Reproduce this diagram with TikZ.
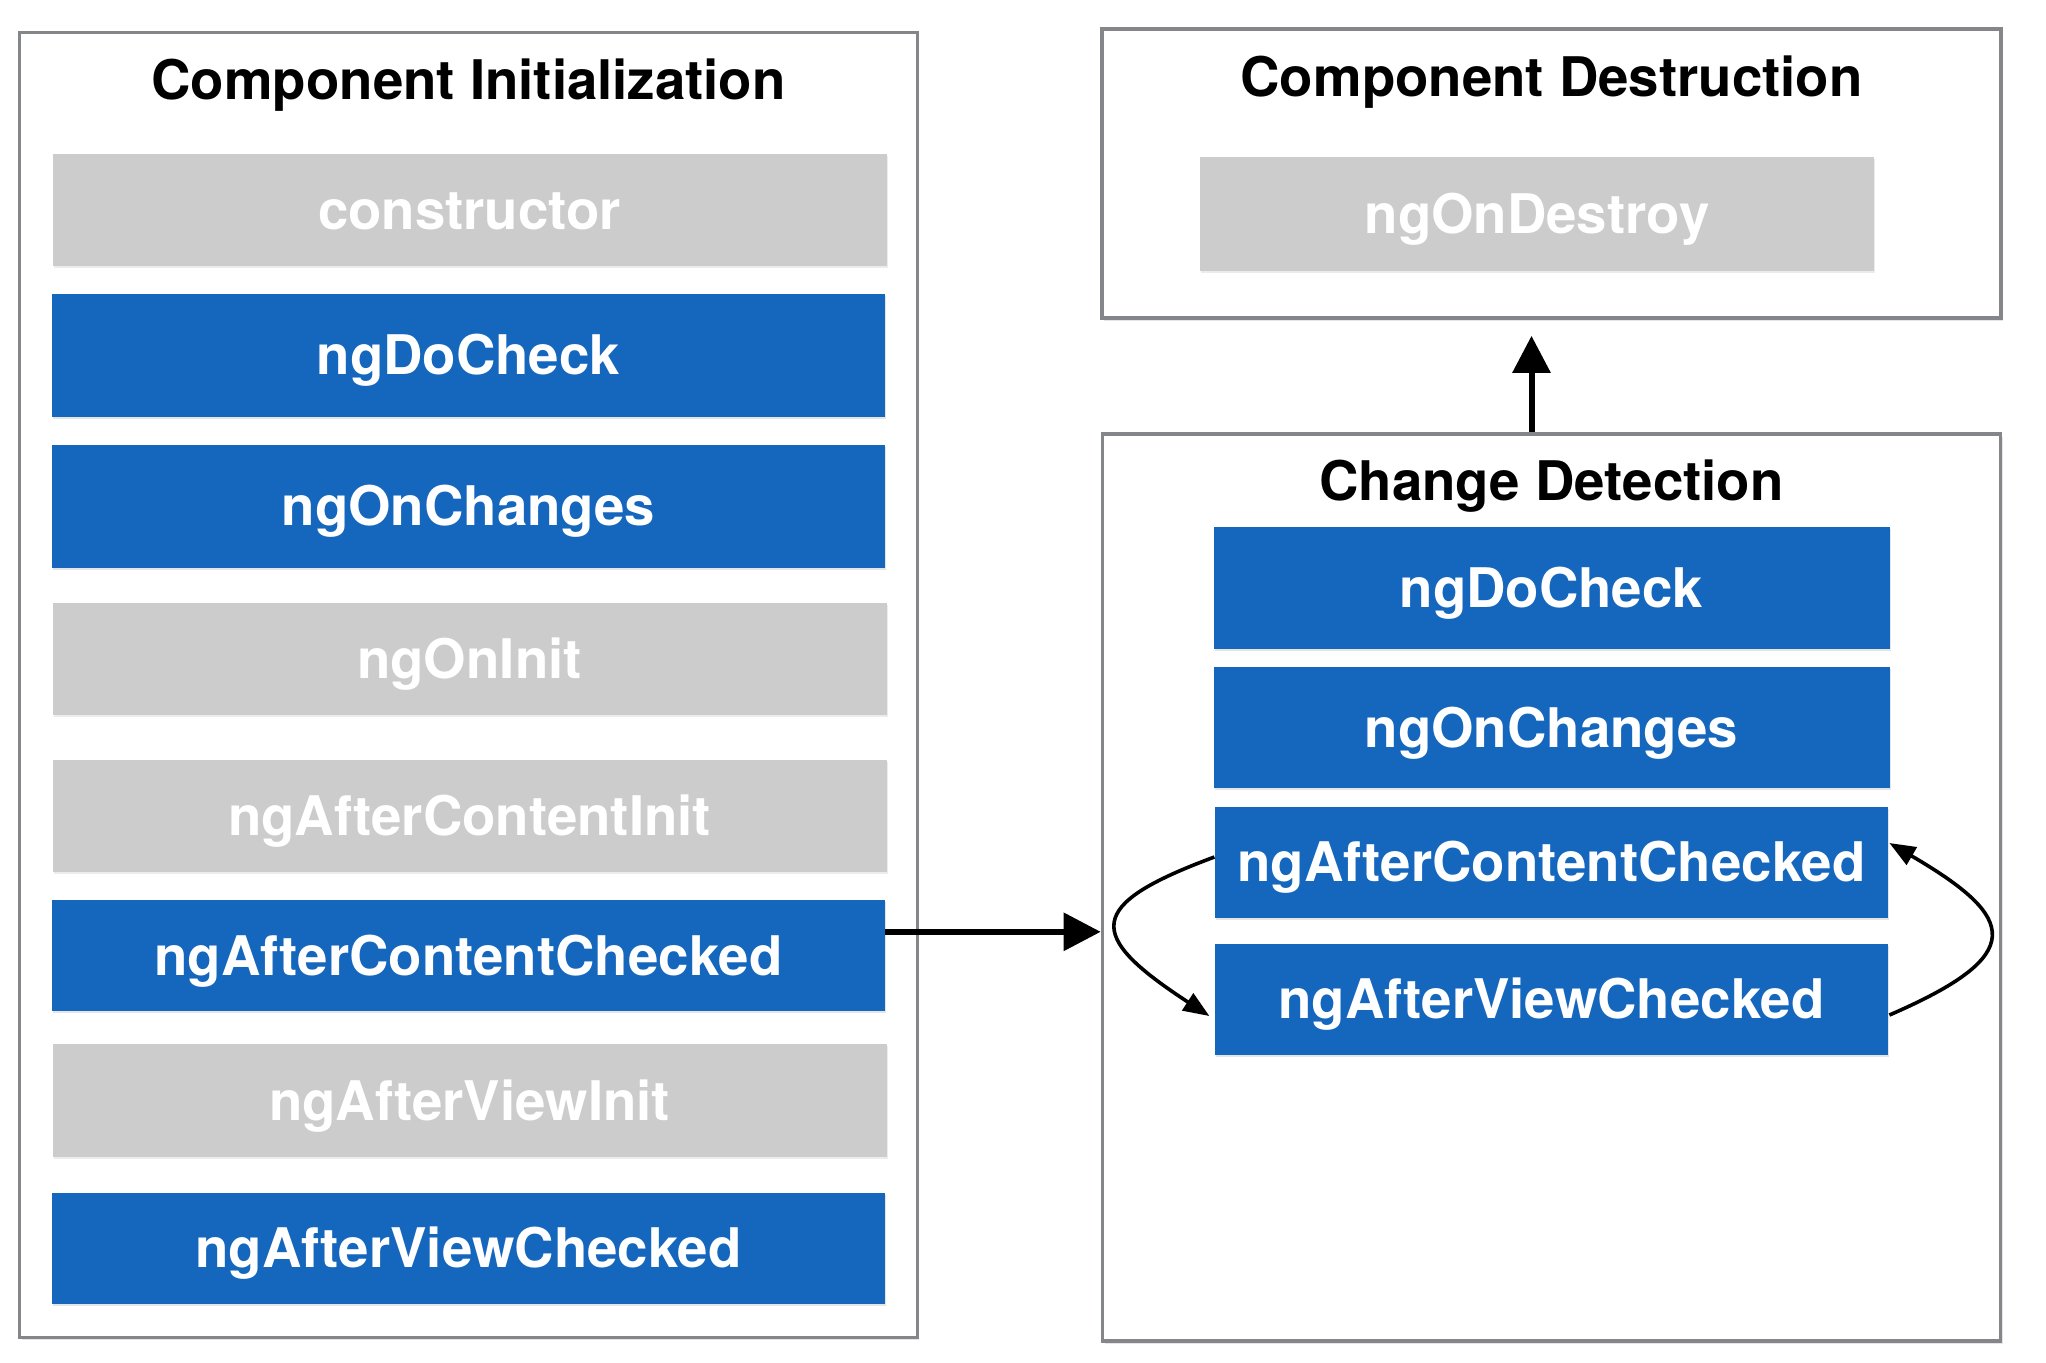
\documentclass[tikz,border=0pt]{standalone}
\usepackage{fontspec}
\setmainfont{TeX Gyre Heros}
\usetikzlibrary{arrows.meta,shadows}
\definecolor{ngblue}{HTML}{1567BE}
\definecolor{nggray}{HTML}{CCCCCC}
\definecolor{panelgray}{HTML}{84868A}
\begin{document}
\begin{tikzpicture}[x=0.5pt,y=-0.5pt,
  lbl/.style={font=\fontsize{27.3pt}{32pt}\selectfont\bfseries, text height=19.7pt, text depth=0pt, inner sep=0pt, anchor=center},
  box/.style={lbl, text=white},
  bluebox/.style={box, fill=ngblue, drop shadow={shadow xshift=0.6pt, shadow yshift=-1pt, opacity=0.2}},
  graybox/.style={box, fill=nggray, drop shadow={shadow xshift=0.6pt, shadow yshift=-1pt, opacity=0.15}},
  panel/.style={draw=panelgray, line width=1.8pt, fill=white, inner sep=0pt, drop shadow={shadow xshift=1pt, shadow yshift=-1.5pt, opacity=0.2}},
  ttl/.style={lbl, text=black},
  bigarrow/.style={line width=3pt, -{Triangle[length=18.5pt, width=18.5pt]}},
  loopy/.style={line width=1.8pt, -{Triangle[length=13pt, width=10pt]}}
]
\useasboundingbox[fill=white] (0,0) rectangle (2046,1362);

% panels
\node[panel, minimum width=448.85pt, minimum height=652.4pt] (ci) at (468.5,685) {};
\node[panel, minimum width=449.5pt, minimum height=144.5pt] (ds) at (1551.5,173.5) {};
\node[panel, minimum width=449pt, minimum height=453.5pt] (cd) at (1551.5,887.5) {};

% titles
\node[ttl] (tci) at (468.5,80) {Component Initialization};
\node[ttl] (tds) at (1551.5,77) {Component Destruction};
\node[ttl] (tcd) at (1551.5,480.5) {Change Detection};

% left column
\node[graybox, minimum width=417pt, minimum height=56pt] (ctor) at (469.5,210) {constructor};
\node[bluebox, minimum width=416.25pt, minimum height=61.5pt] (dc1) at (468.5,355) {ngDoCheck};
\node[bluebox, minimum width=416.25pt, minimum height=61.5pt] (oc1) at (468.5,506.2) {ngOnChanges};
\node[graybox, minimum width=417pt, minimum height=56pt] (oi) at (469.5,659) {ngOnInit};
\node[graybox, minimum width=417pt, minimum height=56pt] (aci) at (469.5,815.5) {ngAfterContentInit};
\node[bluebox, minimum width=416.25pt, minimum height=55.5pt] (acc1) at (468.5,955.8) {ngAfterContentChecked};
\node[graybox, minimum width=417pt, minimum height=56.8pt] (avi) at (469.5,1100.6) {ngAfterViewInit};
\node[bluebox, minimum width=416.25pt, minimum height=55.5pt] (avc1) at (468.5,1248) {ngAfterViewChecked};

% destruction
\node[graybox, minimum width=337pt, minimum height=57pt] (od) at (1537,214) {ngOnDestroy};

% change detection
\node[bluebox, minimum width=338pt, minimum height=60.8pt] (dc2) at (1551.5,587.8) {ngDoCheck};
\node[bluebox, minimum width=338pt, minimum height=60.8pt] (oc2) at (1551.5,727.3) {ngOnChanges};
\node[bluebox, minimum width=336.6pt, minimum height=55.5pt] (acc2) at (1551.4,862) {ngAfterContentChecked};
\node[bluebox, minimum width=336.6pt, minimum height=55.5pt] (avc2) at (1551.4,999) {ngAfterViewChecked};

% connectors
\draw[bigarrow] ([yshift=12pt]acc1.east) -- ([yshift=12pt]acc1.east -| cd.west);
\draw[bigarrow, shorten >=8pt] ([xshift=-10pt]cd.north) -- ([xshift=-10pt]cd.north |- ds.south);
\draw[loopy] ([yshift=2.5pt]acc2.west) .. controls (1085,905) and (1085,935) .. ([yshift=-8.5pt, xshift=-2.5pt]avc2.west);
\draw[loopy] ([yshift=-8pt, xshift=0.5pt]avc2.east) .. controls (2028,955) and (2018,918) .. ([yshift=9.5pt, xshift=0.5pt]acc2.east);
\end{tikzpicture}
\end{document}
